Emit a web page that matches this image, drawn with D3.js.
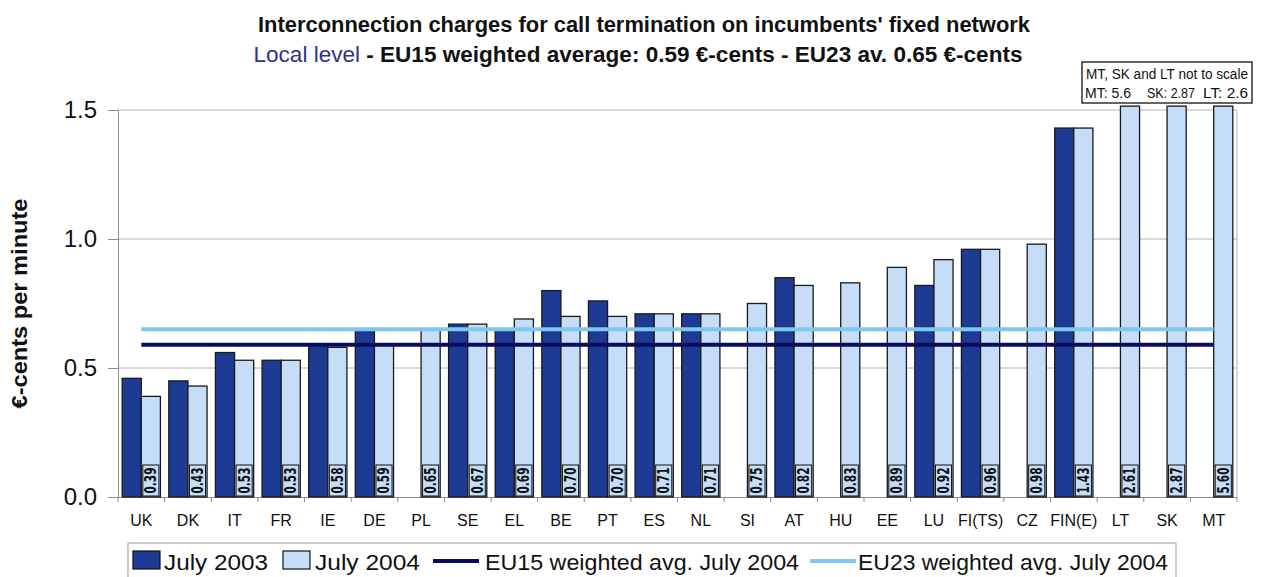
<!DOCTYPE html>
<html>
<head>
<meta charset="utf-8">
<script src="https://cdn.jsdelivr.net/npm/d3@7"></script>
<style>
  html, body { margin: 0; padding: 0; background: #fff; }
  svg { display: block; }
  text { font-family: "Liberation Sans", Arial, sans-serif; }
  .narrow { font-family: "Liberation Sans Narrow", "DejaVu Sans Condensed", "Arial Narrow", sans-serif; }
</style>
</head>
<body>
<svg id="chart" width="1267" height="577"></svg>
<script>
// Interconnection charges (euro-cents per minute), local level
const categories = ["UK","DK","IT","FR","IE","DE","PL","SE","EL","BE","PT","ES","NL","SI","AT","HU","EE","LU","FI(TS)","CZ","FIN(E)","LT","SK","MT"];
const july2003 = [0.46,0.45,0.56,0.53,0.59,0.65,null,0.67,0.65,0.80,0.76,0.71,0.71,null,0.85,null,null,0.82,0.96,null,1.43,null,null,null];
const july2004 = [0.39,0.43,0.53,0.53,0.58,0.59,0.65,0.67,0.69,0.70,0.70,0.71,0.71,0.75,0.82,0.83,0.89,0.92,0.96,0.98,1.43,2.61,2.87,5.60];
const eu15Avg = 0.59;
const eu23Avg = 0.65;
const yTicks = [0, 0.5, 1.0, 1.5];
const legendLabels = ["July 2003", "July 2004", "EU15 weighted avg. July 2004", "EU23 weighted avg. July 2004"];
const offScaleNote = "MT, SK and LT not to scale";
const offScaleValues = ["MT: 5.6", "SK: 2.87", "LT: 2.6"];

const colors = {
  y2003: "#1d3b95",
  y2004: "#c6ddf7",
  eu15: "#0a0b5c",
  eu23: "#7fc7ee",
  grid: "#b4b4b4",
  axis: "#8c8c8c"
};

const svg = d3.select("#chart");
const plot = { left: 118, right: 1237, top: 110, bottom: 497 };

const x = d3.scaleBand().domain(categories).range([plot.left, plot.right]).padding(0);
const y = d3.scaleLinear().domain([0, 1.5]).range([plot.bottom, plot.top]);
const barW = x.bandwidth() * 0.41;
const cap = 1.515; // bars beyond the axis are cut just above the top gridline
const cx = c => x(c) + x.bandwidth() / 2;

// Gridlines
svg.append("g").selectAll("line")
  .data(yTicks.filter(t => t > 0))
  .join("line")
  .attr("x1", plot.left).attr("x2", plot.right)
  .attr("y1", d => y(d)).attr("y2", d => y(d))
  .attr("stroke", colors.grid).attr("stroke-width", 1);

// Right border of plot area
svg.append("line")
  .attr("x1", plot.right).attr("x2", plot.right)
  .attr("y1", y(1.5)).attr("y2", plot.bottom)
  .attr("stroke", colors.grid).attr("stroke-width", 1);

// Y axis
const yAxis = d3.axisLeft(y).tickValues(yTicks).tickFormat(d3.format(".1f")).tickSize(10).tickPadding(11);
const yg = svg.append("g").attr("transform", `translate(${plot.left},0)`).call(yAxis);
yg.select(".domain").attr("stroke", colors.axis);
yg.selectAll(".tick line").attr("stroke", colors.axis);
yg.selectAll(".tick text").attr("font-size", 24).attr("fill", "#111")
  .attr("font-family", "'Liberation Sans', Arial, sans-serif");

// X axis
const xAxis = d3.axisBottom(x).tickSize(0).tickPadding(18);
const xg = svg.append("g").attr("transform", `translate(0,${plot.bottom})`).call(xAxis);
xg.select(".domain").attr("stroke", colors.axis);
xg.selectAll(".tick text").attr("font-size", 16).attr("fill", "#111")
  .attr("font-family", "'Liberation Sans', Arial, sans-serif");
// ticks between categories
svg.append("g").selectAll("line")
  .data(d3.range(categories.length + 1))
  .join("line")
  .attr("x1", i => plot.left + i * x.bandwidth())
  .attr("x2", i => plot.left + i * x.bandwidth())
  .attr("y1", plot.bottom).attr("y2", plot.bottom + 5)
  .attr("stroke", colors.axis);

// Bars
const rows = categories.map((c, i) => ({ c, v03: july2003[i], v04: july2004[i] }));

svg.append("g").selectAll("rect")
  .data(rows.filter(d => d.v03 != null))
  .join("rect")
  .attr("x", d => cx(d.c) - barW)
  .attr("width", barW)
  .attr("y", d => y(Math.min(d.v03, cap)))
  .attr("height", d => plot.bottom - y(Math.min(d.v03, cap)))
  .attr("fill", colors.y2003)
  .attr("stroke", "#1a1a1a").attr("stroke-width", 1.3);

svg.append("g").selectAll("rect")
  .data(rows)
  .join("rect")
  .attr("x", d => cx(d.c))
  .attr("width", barW)
  .attr("y", d => y(Math.min(d.v04, cap)))
  .attr("height", d => plot.bottom - y(Math.min(d.v04, cap)))
  .attr("fill", colors.y2004)
  .attr("stroke", "#1a1a1a").attr("stroke-width", 1.3);

// Average lines
const avgLine = (v, color) => svg.append("line")
  .attr("x1", cx(categories[0])).attr("x2", cx(categories[categories.length - 1]))
  .attr("y1", y(v)).attr("y2", y(v))
  .attr("stroke", color).attr("stroke-width", 4);
avgLine(eu23Avg, colors.eu23);
avgLine(eu15Avg, colors.eu15);

// Value labels at the base of the July 2004 bars
const lab = svg.append("g").selectAll("g")
  .data(rows)
  .join("g")
  .attr("transform", d => `translate(${cx(d.c) + barW / 2},${plot.bottom})`);
lab.append("rect")
  .attr("x", -barW / 2 + 1.5).attr("width", barW - 3)
  .attr("y", -32).attr("height", 31)
  .attr("fill", colors.y2004)
  .attr("stroke", "#111").attr("stroke-width", 1);
lab.append("text")
  .attr("class", "narrow")
  .attr("transform", "translate(0,-16.5) rotate(-90)")
  .attr("text-anchor", "middle")
  .attr("dy", "0.36em")
  .attr("font-size", 15).attr("font-weight", "bold").attr("fill", "#111")
  .attr("textLength", 26).attr("lengthAdjust", "spacingAndGlyphs")
  .text(d => d3.format(".2f")(d.v04));

// Y axis title
svg.append("text")
  .attr("transform", `translate(27,${(plot.top + plot.bottom) / 2}) rotate(-90)`)
  .attr("text-anchor", "middle")
  .attr("font-size", 22).attr("font-weight", "bold").attr("fill", "#111")
  .attr("textLength", 210).attr("lengthAdjust", "spacingAndGlyphs")
  .text("€-cents per minute");

// Chart title
svg.append("text")
  .attr("x", 644).attr("y", 32)
  .attr("text-anchor", "middle")
  .attr("font-size", 22).attr("font-weight", "bold").attr("fill", "#111")
  .attr("textLength", 772).attr("lengthAdjust", "spacingAndGlyphs")
  .text("Interconnection charges for call termination on incumbents' fixed network");
const sub = svg.append("text")
  .attr("x", 638).attr("y", 62)
  .attr("text-anchor", "middle")
  .attr("font-size", 22).attr("font-weight", "bold").attr("fill", "#111")
  .attr("textLength", 769).attr("lengthAdjust", "spacingAndGlyphs");
sub.append("tspan").attr("fill", "#2b3487").attr("font-weight", "normal").text("Local level");
sub.append("tspan").text(" - EU15 weighted average: 0.59 €-cents - EU23 av. 0.65 €-cents");

// Off-scale note
svg.append("rect")
  .attr("x", 1082).attr("y", 62).attr("width", 170).attr("height", 41)
  .attr("fill", "#fff").attr("stroke", "#111").attr("stroke-width", 1.3);
svg.append("text")
  .attr("x", 1086).attr("y", 79)
  .attr("font-size", 14).attr("fill", "#111")
  .attr("textLength", 162).attr("lengthAdjust", "spacingAndGlyphs")
  .text(offScaleNote);
svg.append("g").selectAll("text")
  .data(offScaleValues)
  .join("text")
  .attr("x", (d, i) => [1085, 1147, 1203][i]).attr("y", 98)
  .attr("font-size", 14).attr("fill", "#111")
  .attr("textLength", (d, i) => [46, 48, 45][i]).attr("lengthAdjust", "spacingAndGlyphs")
  .text(d => d);

// Legend
const lg = svg.append("g");
lg.append("rect")
  .attr("x", 128).attr("y", 543).attr("width", 1048).attr("height", 36)
  .attr("fill", "#fff").attr("stroke", "#aaa").attr("stroke-width", 1.2);
const legendItems = [
  { type: "box", color: colors.y2003, sx: 133, tx: 164, tw: 104 },
  { type: "box", color: colors.y2004, sx: 283, tx: 315, tw: 105 },
  { type: "line", color: colors.eu15, sx: 433, tx: 485, tw: 314 },
  { type: "line", color: colors.eu23, sx: 810, tx: 858, tw: 310 }
];
legendItems.forEach((it, i) => {
  if (it.type === "box") {
    lg.append("rect").attr("x", it.sx).attr("y", 551).attr("width", 27).attr("height", 18)
      .attr("fill", it.color).attr("stroke", "#111").attr("stroke-width", 1.2);
  } else {
    lg.append("line").attr("x1", it.sx).attr("x2", it.sx + 46).attr("y1", 561).attr("y2", 561)
      .attr("stroke", it.color).attr("stroke-width", 4);
  }
  lg.append("text").attr("x", it.tx).attr("y", 570)
    .attr("font-size", 22).attr("fill", "#111")
    .attr("textLength", it.tw).attr("lengthAdjust", "spacingAndGlyphs")
    .text(legendLabels[i]);
});
</script>
</body>
</html>
